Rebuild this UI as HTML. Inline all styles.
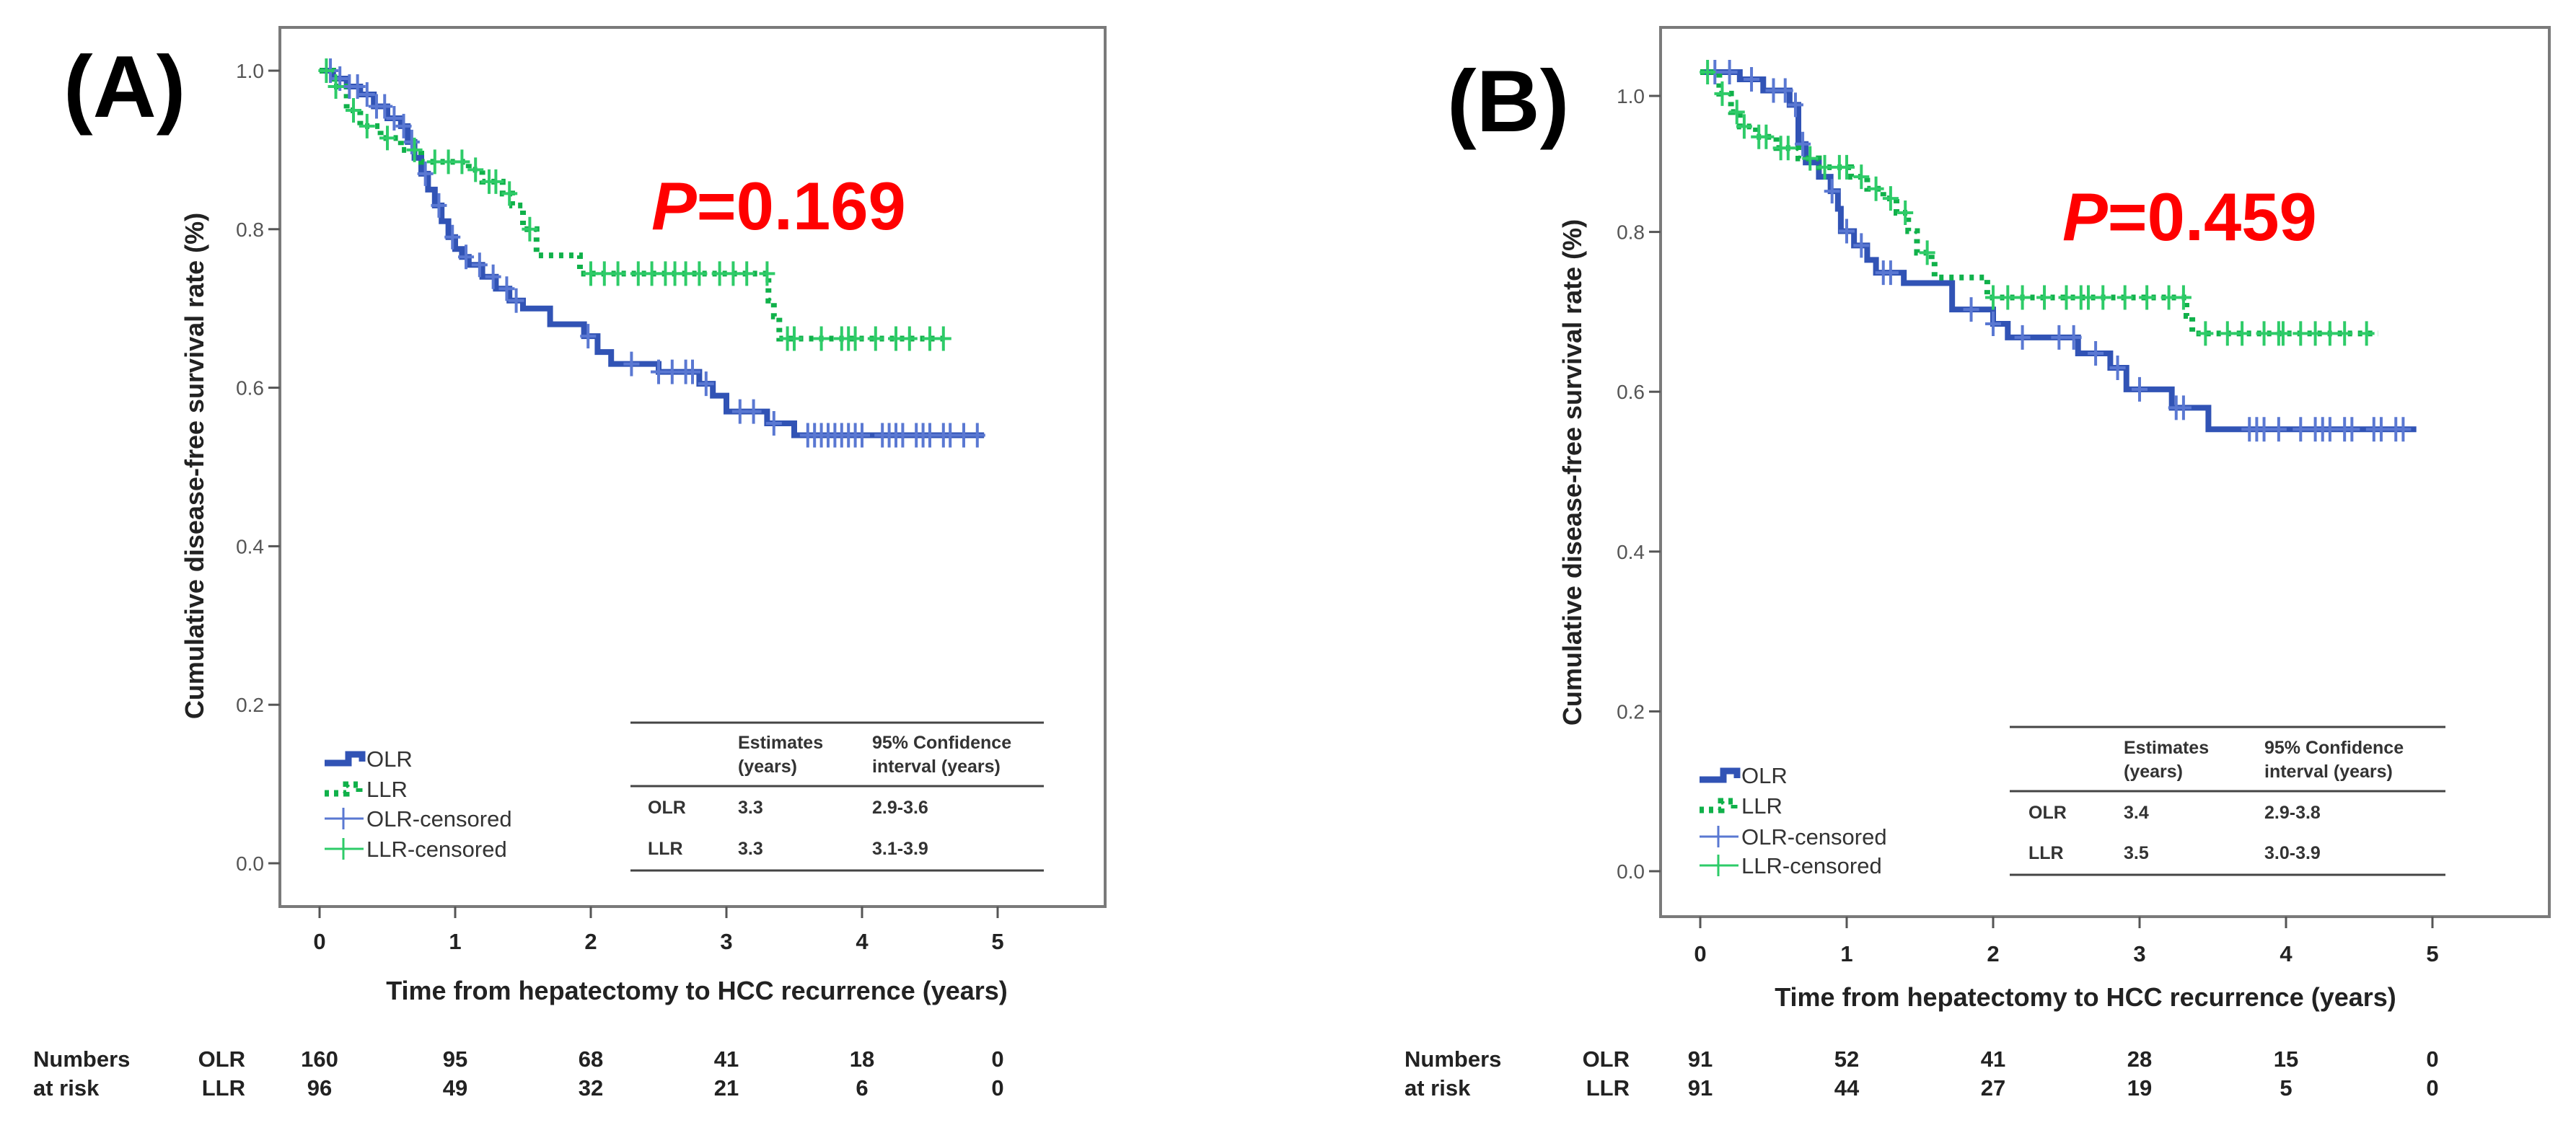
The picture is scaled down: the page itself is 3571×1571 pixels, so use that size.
<!DOCTYPE html>
<html><head><meta charset="utf-8"><style>
html,body{margin:0;padding:0;background:#fff;}
svg{display:block;font-family:"Liberation Sans",Arial,sans-serif;}
</style></head><body>
<svg id="fig" width="3571" height="1571" viewBox="0 0 3571 1571" xmlns="http://www.w3.org/2000/svg">
<g id="pa"></g>
<g id="pb"></g>
</svg>
<script>
// ---- Panel A data ----
const aXTicks = [0,1,2,3,4,5];
const aYTicks = [0,0.2,0.4,0.6,0.8,1.0];
const aYTickLabels = ["0.0","0.2","0.4","0.6","0.8","1.0"];
const aOlrTimes = [0.1,0.2,0.3,0.4,0.5,0.6,0.65,0.7,0.75,0.8,0.85,0.9,0.95,1.0,1.05,1.1,1.2,1.3,1.4,1.5,1.7,1.95,2.05,2.15,2.5,2.8,2.9,3.0,3.3,3.5];
const aOlrSurv = [0.99,0.98,0.97,0.955,0.94,0.93,0.91,0.89,0.87,0.85,0.83,0.81,0.79,0.775,0.765,0.755,0.74,0.725,0.71,0.70,0.68,0.665,0.645,0.63,0.62,0.605,0.59,0.57,0.555,0.54];
const aOlrEnd = 4.9;
const aOlrCens = [0.08,0.15,0.22,0.28,0.35,0.42,0.48,0.55,0.62,0.68,0.78,0.88,0.98,1.08,1.18,1.28,1.38,1.45,1.98,2.3,2.5,2.6,2.7,2.75,2.85,3.1,3.2,3.35,3.6,3.65,3.7,3.75,3.8,3.85,3.9,3.95,4.0,4.15,4.2,4.25,4.3,4.4,4.45,4.5,4.6,4.65,4.75,4.85];
const aLlrTimes = [0.1,0.2,0.3,0.45,0.6,0.75,1.1,1.2,1.35,1.42,1.5,1.6,1.92,3.31,3.35,3.39];
const aLlrSurv = [0.98,0.95,0.93,0.915,0.90,0.885,0.875,0.86,0.845,0.83,0.80,0.767,0.744,0.71,0.69,0.662];
const aLlrEnd = 4.63;
const aLlrCens = [0.05,0.12,0.25,0.35,0.5,0.7,0.85,0.95,1.05,1.15,1.25,1.3,1.4,1.55,2.0,2.1,2.2,2.35,2.45,2.55,2.62,2.7,2.8,2.95,3.05,3.15,3.3,3.45,3.5,3.7,3.85,3.9,3.95,4.1,4.25,4.35,4.5,4.6];
const aRiskOlr = ["160","95","68","41","18","0"];
const aRiskLlr = ["96","49","32","21","6","0"];
const aTable = [["OLR","3.3","2.9-3.6"],["LLR","3.3","3.1-3.9"]];

// ---- Panel B data ----
const bXTicks = [0,1,2,3,4,5];
const bYTicks = [0,0.2,0.4,0.6,0.8,1.0];
const bYTickLabels = ["0.0","0.2","0.4","0.6","0.8","1.0"];
const bOlrTimes = [0.27,0.43,0.61,0.67,0.72,0.81,0.89,0.94,0.96,1.05,1.14,1.2,1.39,1.72,2.0,2.1,2.58,2.8,2.91,3.22,3.47];
const bOlrSurv = [0.991,0.977,0.959,0.91,0.887,0.869,0.851,0.829,0.801,0.783,0.765,0.749,0.736,0.703,0.685,0.668,0.648,0.630,0.603,0.580,0.553];
const bOlrEnd = 4.89;
const bOlrCens = [0.1,0.2,0.35,0.5,0.58,0.65,0.7,0.9,1.0,1.1,1.25,1.3,1.85,2.0,2.2,2.45,2.55,2.7,2.85,3.0,3.25,3.3,3.75,3.8,3.85,3.95,4.1,4.2,4.25,4.3,4.4,4.45,4.6,4.65,4.75,4.8];
const bLlrTimes = [0.13,0.21,0.27,0.38,0.52,0.67,0.81,1.03,1.14,1.25,1.34,1.42,1.48,1.58,1.6,1.96,3.32,3.36];
const bLlrSurv = [0.973,0.95,0.932,0.919,0.905,0.892,0.881,0.869,0.854,0.842,0.824,0.801,0.774,0.765,0.743,0.718,0.695,0.673];
const bLlrEnd = 4.63;
const bLlrCens = [0.05,0.15,0.25,0.3,0.4,0.45,0.55,0.6,0.75,0.85,0.95,1.0,1.1,1.2,1.3,1.4,1.55,2.0,2.1,2.2,2.35,2.5,2.6,2.65,2.75,2.9,3.05,3.2,3.3,3.45,3.6,3.7,3.85,3.95,3.98,4.1,4.2,4.3,4.4,4.55];
const bRiskOlr = ["91","52","41","28","15","0"];
const bRiskLlr = ["91","44","27","19","5","0"];
const bTable = [["OLR","3.4","2.9-3.8"],["LLR","3.5","3.0-3.9"]];

const NS="http://www.w3.org/2000/svg";
function mk(parent,tag,attrs,text){const e=document.createElementNS(NS,tag);for(const k in attrs)e.setAttribute(k,attrs[k]);if(text!==undefined)e.textContent=text;parent.appendChild(e);return e;}
function survAt(times,surv,t){let s=1;for(let i=0;i<times.length;i++){if(times[i]<=t)s=surv[i];}return s;}
function stepPath(times,surv,end,X,Y){let d="M"+X(0)+","+Y(1);for(let i=0;i<times.length;i++){d+=" H"+X(times[i])+" V"+Y(surv[i]);}d+=" H"+X(end);return d;}

function drawPanel(g,P){
  const X=P.X,Y=P.Y;
  let e=mk(g,"rect",{x:P.box[0],y:P.box[1],width:P.box[2]-P.box[0],height:P.box[3]-P.box[1],fill:"none",stroke:"#7a7a7a","stroke-width":4});
  
  
  P.yTicks.forEach((v,i)=>{
    const yy=Y(v)+(P.yOff&&v===1?P.yOff:0);
    let t=mk(g,"line",{x1:P.box[0]-16,x2:P.box[0],y1:yy,y2:yy,stroke:"#555","stroke-width":3});
    
    
    let l=mk(g,"text",{x:P.box[0]-22,y:yy+10,"text-anchor":"end","font-size":28,fill:"#555"},P.yLabels[i]);
    
    
  });
  P.xTicks.forEach(v=>{
    let t=mk(g,"line",{x1:X(v),x2:X(v),y1:P.box[3],y2:P.box[3]+16,stroke:"#555","stroke-width":3});
    
    
    let l=mk(g,"text",{x:X(v),y:P.xLabY,"text-anchor":"middle","font-size":31,"font-weight":"bold",fill:"#222"},String(v));
    
    
  });
  let c1=mk(g,"path",{d:stepPath(P.olrT,P.olrS,P.olrEnd,X,Y),fill:"none",stroke:"#3153b5","stroke-width":8,"stroke-linejoin":"miter"});
  
  
  let c2=mk(g,"path",{d:stepPath(P.llrT,P.llrS,P.llrEnd,X,Y),fill:"none",stroke:"#10b14a","stroke-width":8,"stroke-dasharray":"6 8"});
  
  
  P.olrC.forEach(t=>{
    const yy=Y(survAt(P.olrT,P.olrS,t));
    let m=mk(g,"path",{d:"M"+X(t)+","+(yy-17)+" V"+(yy+17)+" M"+(X(t)-11)+","+yy+" H"+(X(t)+11),stroke:"#5a78d2","stroke-width":4,fill:"none"});
    
    
  });
  P.llrC.forEach(t=>{
    const yy=Y(survAt(P.llrT,P.llrS,t));
    let m=mk(g,"path",{d:"M"+X(t)+","+(yy-17)+" V"+(yy+17)+" M"+(X(t)-11)+","+yy+" H"+(X(t)+11),stroke:"#2ecb68","stroke-width":4,fill:"none"});
    
    
  });
  let yt=mk(g,"text",{x:0,y:0,transform:"translate("+P.yTitle[0]+","+P.yTitle[1]+") rotate(-90)","text-anchor":"middle","font-size":36,"font-weight":"bold",fill:"#222"},"Cumulative disease-free survival rate (%)");
  
  
  let xt=mk(g,"text",{x:P.xTitle[0],y:P.xTitle[1],"text-anchor":"middle","font-size":36,"font-weight":"bold",fill:"#222"},"Time from hepatectomy to HCC recurrence (years)");
  
  
  let pl=mk(g,"text",{x:P.label[0],y:P.label[1],"font-size":122,"font-weight":"bold",fill:"#000"},P.labelText);
  
  
  let pv=mk(g,"text",{x:P.pv[0],y:P.pv[1],"font-size":94,"font-weight":"bold",fill:"#ff0000"});
  
  
  mk(pv,"tspan",{"font-style":"italic"},"P");
  mk(pv,"tspan",{},"="+P.pText);
  const lx=P.leg[0];
  const rows=P.leg[1];
  let lg=mk(g,"g",{});
  
  
  let s1=mk(lg,"path",{d:"M"+lx+","+(rows[0]+6)+" H"+(lx+33)+" V"+(rows[0]-6)+" H"+(lx+52)+" V"+(rows[0]+4),stroke:"#3153b5","stroke-width":9,fill:"none"});
  
  
  let s2=mk(lg,"path",{d:"M"+lx+","+(rows[1]+6)+" H"+(lx+30)+" V"+(rows[1]-6)+" H"+(lx+48)+" V"+(rows[1]+4),stroke:"#10b14a","stroke-width":9,fill:"none","stroke-dasharray":"6 7"});
  
  
  let s3=mk(lg,"path",{d:"M"+lx+","+rows[2]+" H"+(lx+54)+" M"+(lx+26)+","+(rows[2]-15)+" V"+(rows[2]+15),stroke:"#5a78d2","stroke-width":3,fill:"none"});
  
  
  let s4=mk(lg,"path",{d:"M"+lx+","+rows[3]+" H"+(lx+54)+" M"+(lx+26)+","+(rows[3]-15)+" V"+(rows[3]+15),stroke:"#2ecb68","stroke-width":3,fill:"none"});
  
  
  ["OLR","LLR","OLR-censored","LLR-censored"].forEach((t,i)=>{
    let te=mk(lg,"text",{x:lx+58,y:rows[i]+11,"font-size":31,fill:"#333"},t);
    
    
  });
  const T=P.tab;
  let tg=mk(g,"g",{});
  
  
  T.lines.forEach(yy=>{let l=mk(tg,"line",{x1:T.x0,x2:T.x1,y1:yy,y2:yy,stroke:"#444","stroke-width":3});});
  [["Estimates","(years)",T.c2],["95% Confidence","interval (years)",T.c3]].forEach(h=>{
    let a=mk(tg,"text",{x:h[2],y:T.hy[0],"font-size":25,"font-weight":"bold",fill:"#333"},h[0]);
    
    
    let b=mk(tg,"text",{x:h[2],y:T.hy[1],"font-size":25,"font-weight":"bold",fill:"#333"},h[1]);
    
    
  });
  P.table.forEach((r,i)=>{
    [T.c1,T.c2,T.c3].forEach((cx,j)=>{
      let c=mk(tg,"text",{x:cx,y:T.ry[i],"font-size":25,"font-weight":"bold",fill:"#333"},r[j]);
      
      
    });
  });
  const R=P.risk;
  let rg=mk(g,"g",{});
  
  
  [["Numbers",R.y[0]],["at risk",R.y[1]]].forEach(a=>{let t=mk(rg,"text",{x:R.lx,y:a[1],"font-size":31,"font-weight":"bold",fill:"#222"},a[0]);});
  [["OLR",R.y[0]],["LLR",R.y[1]]].forEach(a=>{let t=mk(rg,"text",{x:R.gx,y:a[1],"text-anchor":"end","font-size":31,"font-weight":"bold",fill:"#222"},a[0]);});
  P.xTicks.forEach((v,i)=>{
    let a=mk(rg,"text",{x:X(v),y:R.y[0],"text-anchor":"middle","font-size":31,"font-weight":"bold",fill:"#222"},P.riskO[i]);
    
    
    let b=mk(rg,"text",{x:X(v),y:R.y[1],"text-anchor":"middle","font-size":31,"font-weight":"bold",fill:"#222"},P.riskL[i]);
    
    
  });
}

drawPanel(document.getElementById("pa"),{
  X:t=>443+t*188, Y:s=>1197-s*1099,
  box:[388,38,1532,1257], xTicks:aXTicks, yTicks:aYTicks, yLabels:aYTickLabels, xLabY:1316,
  olrT:aOlrTimes,olrS:aOlrSurv,olrEnd:aOlrEnd,olrC:aOlrCens,
  llrT:aLlrTimes,llrS:aLlrSurv,llrEnd:aLlrEnd,llrC:aLlrCens,
  yTitle:[282,646], xTitle:[966,1386], label:[88,162], labelText:"(A)",
  pv:[903,318], pText:"0.169",
  leg:[450,[1052,1094,1135,1177]],
  tab:{x0:874,x1:1447,lines:[1002,1090,1207],c1:898,c2:1023,c3:1209,hy:[1038,1071],ry:[1128,1185]},
  table:aTable,
  risk:{lx:46,gx:340,y:[1479,1519]}, riskO:aRiskOlr, riskL:aRiskLlr
});
drawPanel(document.getElementById("pb"),{
  X:t=>2357+t*203, Y:s=>1208-s*1108, yOff:33,
  box:[2302,38,3534,1271], xTicks:bXTicks, yTicks:bYTicks, yLabels:bYTickLabels, xLabY:1333,
  olrT:bOlrTimes,olrS:bOlrSurv,olrEnd:bOlrEnd,olrC:bOlrCens,
  llrT:bLlrTimes,llrS:bLlrSurv,llrEnd:bLlrEnd,llrC:bLlrCens,
  yTitle:[2192,655], xTitle:[2891,1395], label:[2006,182], labelText:"(B)",
  pv:[2859,333], pText:"0.459",
  leg:[2356,[1075,1117,1160,1200]],
  tab:{x0:2786,x1:3390,lines:[1008,1097,1213],c1:2812,c2:2944,c3:3139,hy:[1045,1078],ry:[1135,1191]},
  table:bTable,
  risk:{lx:1947,gx:2259,y:[1479,1519]}, riskO:bRiskOlr, riskL:bRiskLlr
});
</script>
</body></html>
